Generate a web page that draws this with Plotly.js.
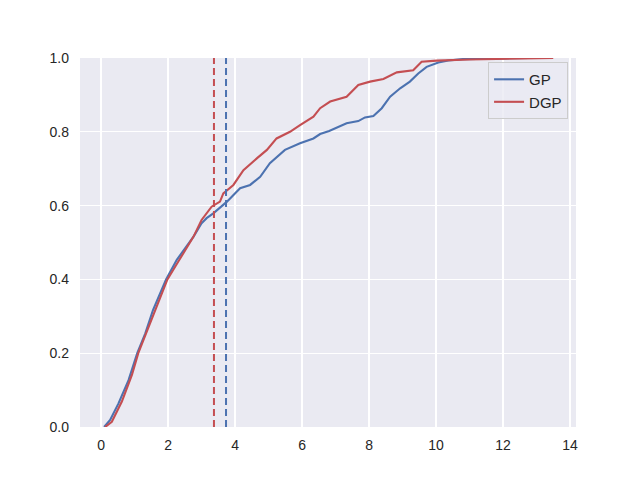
<!DOCTYPE html>
<html>
<head>
<meta charset="utf-8">
<script src="https://cdn.plot.ly/plotly-3.0.1.min.js"></script>
<style>html,body{margin:0;padding:0;background:#fff;}#chart{width:640px;height:480px;}</style>
</head>
<body>
<div id="chart"></div>
<script>
const gpX = [0.09,0.27,0.52,0.82,1.08,1.32,1.55,1.72,1.94,2.26,2.76,3.00,3.15,3.35,3.75,4.15,4.45,4.75,5.04,5.49,5.94,6.34,6.54,6.81,7.33,7.68,7.88,8.13,8.38,8.63,8.93,9.22,9.47,9.72,10.07,10.37,10.80,12.0,12.8];
const gpY = [0.000,0.019,0.064,0.127,0.200,0.254,0.317,0.353,0.400,0.453,0.516,0.552,0.566,0.579,0.610,0.647,0.656,0.678,0.715,0.751,0.769,0.782,0.794,0.802,0.823,0.829,0.839,0.843,0.864,0.895,0.918,0.936,0.958,0.976,0.988,0.993,0.997,0.999,1.000];
// DGP empirical CDF
const dgpX = [0.12,0.32,0.62,0.92,1.11,1.35,1.58,1.76,1.98,2.31,2.76,3.00,3.30,3.55,3.65,3.95,4.25,4.65,4.95,5.24,5.64,5.94,6.34,6.54,6.84,7.33,7.68,8.03,8.43,8.83,9.32,9.57,10.02,11.0,12.5,13.5];
const dgpY = [0.000,0.014,0.069,0.141,0.200,0.255,0.308,0.353,0.400,0.449,0.516,0.561,0.597,0.611,0.633,0.656,0.696,0.728,0.751,0.782,0.800,0.818,0.841,0.864,0.882,0.895,0.927,0.936,0.943,0.961,0.967,0.990,0.993,0.996,0.998,1.000];
// medians (dashed vertical lines)
const gpMedian = 3.73;
const dgpMedian = 3.37;
const seriesNames = ["GP", "DGP"];
const xTicks = [0,2,4,6,8,10,12,14];
const yTicks = [0,0.2,0.4,0.6,0.8,1.0];

const blue = "#4C72B0", red = "#C44E52";

const traces = [
  {x: gpX, y: gpY, mode: "lines", name: seriesNames[0], line: {color: blue, width: 2.1}},
  {x: dgpX, y: dgpY, mode: "lines", name: seriesNames[1], line: {color: red, width: 2.1}},
  {x: [dgpMedian, dgpMedian], y: [0, 1], mode: "lines", showlegend: false, line: {color: red, width: 2, dash: "7px,4px"}},
  {x: [gpMedian, gpMedian], y: [0, 1], mode: "lines", showlegend: false, line: {color: blue, width: 2, dash: "7px,4px"}}
];

const layout = {
  width: 640, height: 480,
  margin: {l: 80, r: 64, t: 58, b: 53},
  paper_bgcolor: "#ffffff",
  plot_bgcolor: "#EAEAF2",
  font: {family: "Arial, 'Liberation Sans', sans-serif", size: 14, color: "#262626"},
  showlegend: true,
  legend: {x: 0.984, y: 0.989, xanchor: "right", yanchor: "top",
           bgcolor: "rgba(234,234,242,0.8)", bordercolor: "#CCCCCC", borderwidth: 1,
           font: {size: 15, color: "#262626"}},
  xaxis: {range: [-0.63, 14.18], tickvals: xTicks, ticktext: xTicks.map(String),
          showgrid: true, gridcolor: "#ffffff", gridwidth: 1.3, zeroline: false,
          showline: false, ticks: "", ticklen: 0, ticklabelstandoff: 8},
  yaxis: {range: [0, 1], tickvals: yTicks, ticktext: yTicks.map(v => v.toFixed(1)),
          showgrid: true, gridcolor: "#ffffff", gridwidth: 1.3, zeroline: false,
          showline: false, ticks: "", ticklen: 0, ticklabelstandoff: 10}
};

Plotly.newPlot("chart", traces, layout, {displayModeBar: false, staticPlot: true});
</script>
</body>
</html>
